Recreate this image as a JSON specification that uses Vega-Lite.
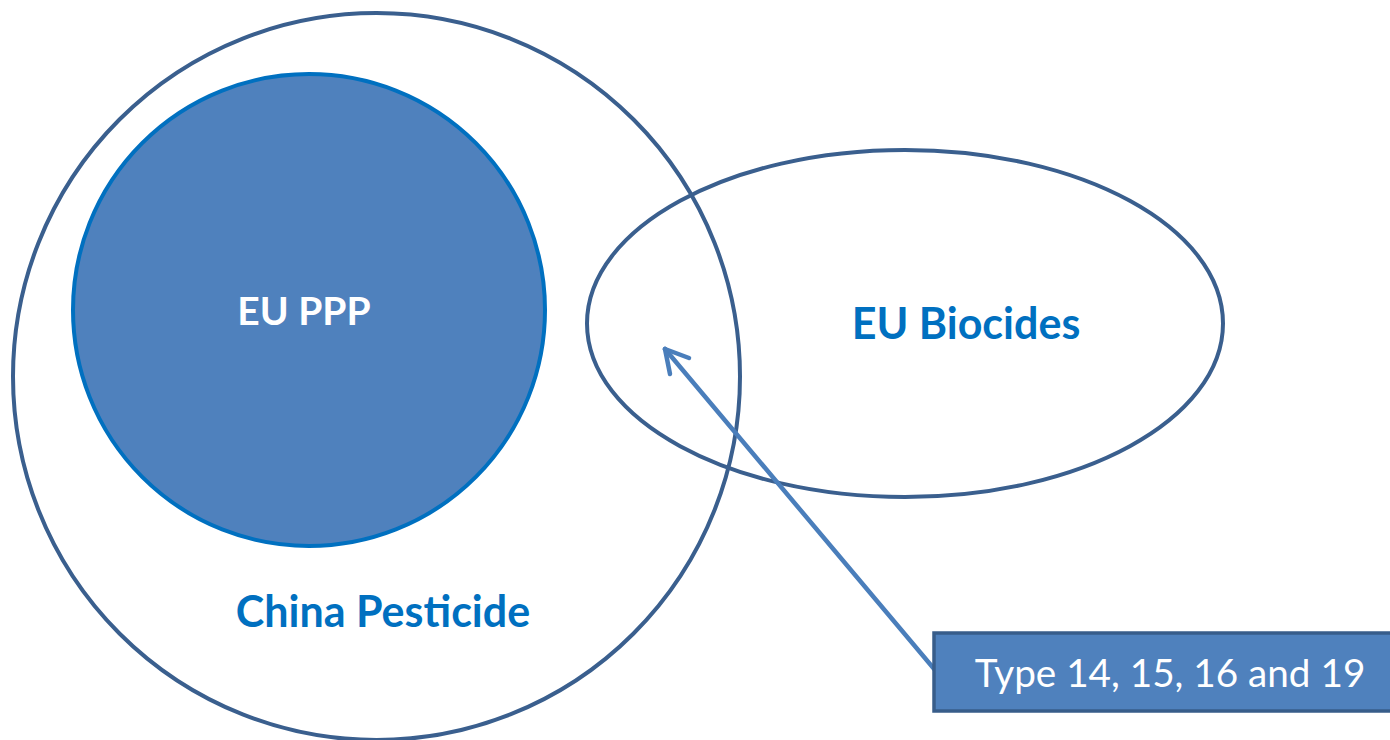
{
  "$schema": "https://vega.github.io/schema/vega-lite/v6.json",
  "width": 1390,
  "height": 740,
  "padding": 0,
  "autosize": "none",
  "background": "white",
  "config": {"view": {"stroke": null}},
  "datasets": {
    "outer": [{"set": "China Pesticide", "cx": 376.5, "cy": 376.5, "d": 727}],
    "inner": [{"set": "EU PPP", "cx": 309, "cy": 310, "d": 472}],
    "ellipse": [{"set": "EU Biocides", "cx": 905, "cy": 323.5, "d": 636}],
    "arrow": [
      {"part": "shaft", "x": 935, "y": 670, "x2": 665, "y2": 349},
      {"part": "arm1", "x": 665, "y": 349, "x2": 689, "y2": 358},
      {"part": "arm2", "x": 665, "y": 349, "x2": 670, "y2": 374}
    ],
    "box": [{"x": 934, "y": 633, "x2": 1400, "y2": 711}],
    "pppLabel": [{"label": "EU PPP", "x": 304, "y": 325}],
    "blueLabels": [
      {"label": "EU Biocides", "x": 966, "y": 339},
      {"label": "China Pesticide", "x": 383, "y": 627}
    ],
    "boxLabel": [{"label": "Type 14, 15, 16 and 19", "x": 1170, "y": 687}]
  },
  "layer": [
    {
      "data": {"name": "outer"},
      "mark": {"type": "point", "shape": "circle", "filled": false, "stroke": "#3A5F8E", "strokeWidth": 4, "opacity": 1},
      "encoding": {
        "x": {"field": "cx", "type": "quantitative", "scale": {"domain": [0, 1390], "nice": false, "zero": false}, "axis": null},
        "y": {"field": "cy", "type": "quantitative", "scale": {"domain": [0, 740], "nice": false, "zero": false, "reverse": true}, "axis": null},
        "size": {"field": "d", "type": "quantitative", "scale": {"type": "pow", "exponent": 2, "domain": [0, 1000], "range": [0, 1000000]}, "legend": null}
      }
    },
    {
      "data": {"name": "inner"},
      "mark": {"type": "point", "shape": "circle", "filled": true, "fill": "#4F81BD", "stroke": "#0070C0", "strokeWidth": 4, "opacity": 1, "fillOpacity": 1},
      "encoding": {
        "x": {"field": "cx", "type": "quantitative"},
        "y": {"field": "cy", "type": "quantitative"},
        "size": {"field": "d", "type": "quantitative"}
      }
    },
    {
      "data": {"name": "ellipse"},
      "mark": {"type": "point", "shape": "M-1,0A1,0.5456,0,1,1,1,0A1,0.5456,0,1,1,-1,0Z", "filled": false, "stroke": "#3A5F8E", "strokeWidth": 4, "opacity": 1},
      "encoding": {
        "x": {"field": "cx", "type": "quantitative"},
        "y": {"field": "cy", "type": "quantitative"},
        "size": {"field": "d", "type": "quantitative"}
      }
    },
    {
      "data": {"name": "arrow"},
      "mark": {"type": "rule", "stroke": "#4A7EBB", "strokeWidth": 4.5, "strokeCap": "round"},
      "encoding": {
        "x": {"field": "x", "type": "quantitative"},
        "y": {"field": "y", "type": "quantitative"},
        "x2": {"field": "x2"},
        "y2": {"field": "y2"}
      }
    },
    {
      "data": {"name": "box"},
      "mark": {"type": "rect", "fill": "#4F81BD", "stroke": "#385D8A", "strokeWidth": 3.5},
      "encoding": {
        "x": {"field": "x", "type": "quantitative"},
        "y": {"field": "y", "type": "quantitative"},
        "x2": {"field": "x2"},
        "y2": {"field": "y2"}
      }
    },
    {
      "data": {"name": "pppLabel"},
      "mark": {"type": "text", "font": "Lato", "fontWeight": "bold", "fontSize": 39, "align": "center", "baseline": "alphabetic", "color": "#FFFFFF"},
      "encoding": {
        "x": {"field": "x", "type": "quantitative"},
        "y": {"field": "y", "type": "quantitative"},
        "text": {"field": "label"}
      }
    },
    {
      "data": {"name": "blueLabels"},
      "mark": {"type": "text", "font": "Lato", "fontWeight": "bold", "fontSize": 43, "align": "center", "baseline": "alphabetic", "color": "#0070C0"},
      "encoding": {
        "x": {"field": "x", "type": "quantitative"},
        "y": {"field": "y", "type": "quantitative"},
        "text": {"field": "label"}
      }
    },
    {
      "data": {"name": "boxLabel"},
      "mark": {"type": "text", "font": "Lato", "fontSize": 38.7, "align": "center", "baseline": "alphabetic", "color": "#FFFFFF"},
      "encoding": {
        "x": {"field": "x", "type": "quantitative"},
        "y": {"field": "y", "type": "quantitative"},
        "text": {"field": "label"}
      }
    }
  ]
}
